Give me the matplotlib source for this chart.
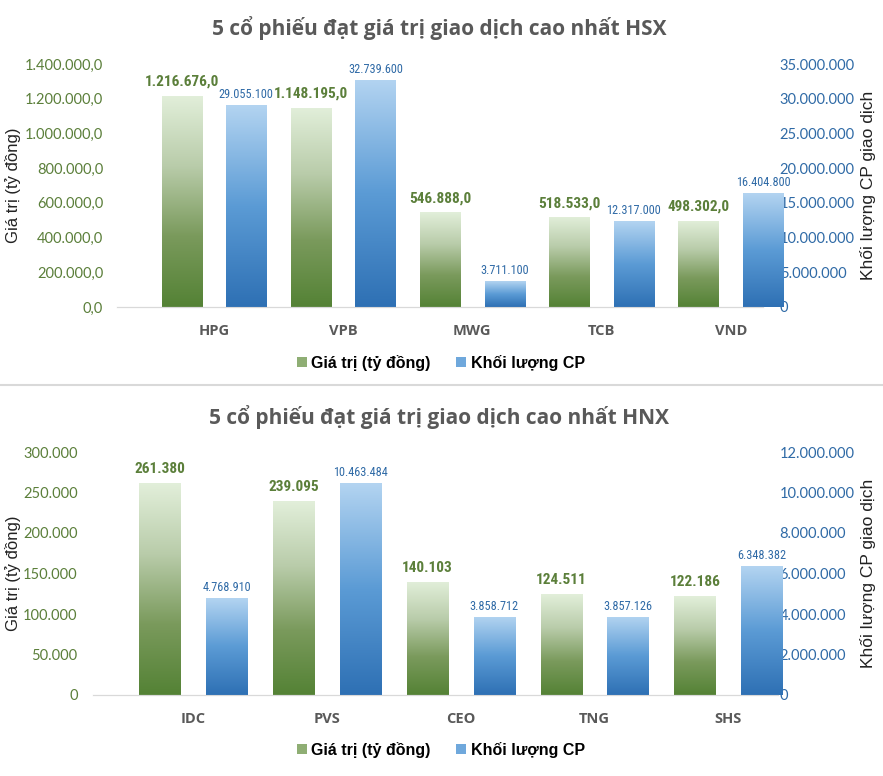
import numpy as np
import matplotlib
matplotlib.use("Agg")
import matplotlib.pyplot as plt
from matplotlib import font_manager
from matplotlib.colors import LinearSegmentedColormap
from matplotlib.patches import Patch
from matplotlib.ticker import FuncFormatter

# ---- data ----
hsx_codes = ["HPG", "VPB", "MWG", "TCB", "VND"]
hsx_value = [1216676.0, 1148195.0, 546888.0, 518533.0, 498302.0]
hsx_volume = [29055100, 32739600, 3711100, 12317000, 16404800]

hnx_codes = ["IDC", "PVS", "CEO", "TNG", "SHS"]
hnx_value = [261380, 239095, 140103, 124511, 122186]
hnx_volume = [4768910, 10463484, 3858712, 3857126, 6348382]

title_hsx = "5 cổ phiếu đạt giá trị giao dịch cao nhất HSX"
title_hnx = "5 cổ phiếu đạt giá trị giao dịch cao nhất HNX"
label_value = "Giá trị (tỷ đồng)"
label_volume = "Khối lượng CP"
ylabel_left = "Giá trị (tỷ đồng)"
ylabel_right = "Khối lượng CP giao dịch"

GREEN_TXT = "#5b7f3a"
BLUE_TXT = "#2f6aa6"
GRAY = "#595959"

green_cmap = LinearSegmentedColormap.from_list("g", ["#548235", "#7a9a5c", "#b9ccaa", "#e2efda"])
blue_cmap = LinearSegmentedColormap.from_list("b", ["#2e70b4", "#5b9bd5", "#b3d4f1"])


def find_narrow(bold):
    # look for a condensed sans face (Arial Narrow look-alike) among installed fonts
    best = None
    for f in font_manager.fontManager.ttflist:
        narrow = ("Narrow" in f.name or "Condensed" in f.name
                  or f.stretch in ("condensed", "semi-condensed"))
        if not narrow or "Mono" in f.name or "Serif" in f.name:
            continue
        is_bold = f.weight in ("bold", 700) or (isinstance(f.weight, int) and f.weight >= 600)
        if is_bold != bold or f.style != "normal":
            continue
        rank = 0 if "Liberation" in f.name else 1 if "Roboto" in f.name else 2
        if best is None or rank < best[0]:
            best = (rank, f.fname)
    return best[1] if best else None


nb, nr = find_narrow(True), find_narrow(False)
if nb:
    green_lbl = dict(fontproperties=font_manager.FontProperties(fname=nb, size=11))
else:
    green_lbl = dict(fontfamily="Liberation Sans", fontweight="bold", fontsize=9.5)
if nr:
    blue_lbl = dict(fontproperties=font_manager.FontProperties(fname=nr, size=8.8))
else:
    blue_lbl = dict(fontfamily="Liberation Sans", fontsize=8)


def vn_fmt(v, decimals):
    s = f"{v:,.{decimals}f}"
    return s.replace(",", "#").replace(".", ",").replace("#", ".")


def gradient_bars(ax, x, heights, width, cmap):
    bars = ax.bar(x, heights, width, color="none", edgecolor="none")
    grad = np.linspace(0, 1, 256).reshape(-1, 1)
    for rect in bars:
        x0, w, h = rect.get_x(), rect.get_width(), rect.get_height()
        im = ax.imshow(grad, extent=(x0, x0 + w, 0, h), origin="lower",
                       cmap=cmap, aspect="auto", interpolation="bicubic", zorder=2)
        im.set_clip_path(rect)
    return bars


def draw_panel(fig, rect, codes, values, volumes, ymax, ystep, rmax, rstep,
               decimals, xlim, lpad, rpad):
    ax = fig.add_axes(rect)
    ax2 = ax.twinx()
    x = np.arange(len(codes))
    off, w = 0.25, 0.31

    gradient_bars(ax, x - off, values, w, green_cmap)
    gradient_bars(ax2, x + off, volumes, w, blue_cmap)

    ax.set_xlim(*xlim)
    ax.set_ylim(0, ymax)
    ax2.set_ylim(0, rmax)
    ax.set_yticks(np.arange(0, ymax + 1, ystep))
    ax2.set_yticks(np.arange(0, rmax + 1, rstep))
    ax.yaxis.set_major_formatter(FuncFormatter(lambda v, p: vn_fmt(v, decimals)))
    ax2.yaxis.set_major_formatter(FuncFormatter(lambda v, p: vn_fmt(v, 0)))

    ax.set_xticks(x)
    ax.set_xticklabels(codes, fontfamily="Open Sans", fontweight="bold",
                       fontsize=10.5, color=GRAY)
    ax.tick_params(axis="x", length=0, pad=12)
    ax.tick_params(axis="y", length=0, pad=lpad, labelsize=10.5, labelcolor=GREEN_TXT)
    ax2.tick_params(axis="y", length=0, pad=rpad, labelsize=10.5, labelcolor=BLUE_TXT)
    for t in ax.get_yticklabels() + ax2.get_yticklabels():
        t.set_fontfamily("Lato")

    for a in (ax, ax2):
        for s in ("top", "left", "right"):
            a.spines[s].set_visible(False)
        a.spines["bottom"].set_color("#d9d9d9")

    for xi, v in zip(x, values):
        ax.annotate(vn_fmt(v, decimals), (xi - off, v), xytext=(0, 5),
                    textcoords="offset points", ha="center", va="bottom",
                    color=GREEN_TXT, **green_lbl)
    for xi, v in zip(x, volumes):
        ax2.annotate(vn_fmt(v, 0), (xi + off, v), xytext=(0, 3),
                     textcoords="offset points", ha="center", va="bottom",
                     color=BLUE_TXT, **blue_lbl)

    # axis titles placed at fixed figure x so they are not pushed off the edge
    ymid = rect[1] + rect[3] / 2
    fig.text(13 / 883, ymid, ylabel_left, rotation=90, ha="center", va="center",
             fontfamily="Liberation Sans", fontsize=12, color="#222222")
    fig.text(868 / 883, ymid, ylabel_right, rotation=90, ha="center", va="center",
             fontfamily="Liberation Sans", fontsize=12.5, color="#222222")
    return ax, ax2


fig = plt.figure(figsize=(8.83, 7.76), dpi=100)
W, H = 883, 776

# top panel (HSX)
draw_panel(fig, [117 / W, 1 - 307 / H, 646 / W, 243 / H],
           hsx_codes, hsx_value, hsx_volume,
           1400000, 200000, 35000000, 5000000, 1,
           (-0.75, 4.25), 10, 12)
# bottom panel (HNX)
draw_panel(fig, [93 / W, 1 - 695 / H, 685 / W, 243 / H],
           hnx_codes, hnx_value, hnx_volume,
           300000, 50000, 12000000, 2000000, 0,
           (-0.75, 4.37), 11, 1)

for y, t in [(1 - 28 / H, title_hsx), (1 - 417 / H, title_hnx)]:
    fig.text(439 / W, y, t, ha="center", va="center", fontfamily="Open Sans",
             fontweight="bold", fontsize=15, color=GRAY)

handles = [Patch(facecolor="#8fae74", edgecolor="none", label=label_value),
           Patch(facecolor="#6fa8dc", edgecolor="none", label=label_volume)]
for y in (1 - 363 / H, 1 - 750 / H):
    fig.legend(handles=handles, loc="center", bbox_to_anchor=(441 / W, y),
               ncol=2, frameon=False, handlelength=0.6, handleheight=0.6,
               handletextpad=0.3, columnspacing=1.6,
               prop={"family": "Liberation Sans", "weight": "bold", "size": 11.5})

# separator line between the two charts
fig.add_artist(plt.Line2D([0, 1], [1 - 385 / H, 1 - 385 / H], color="#d9d9d9", lw=1.5))

fig.savefig("out.png", dpi=100)
